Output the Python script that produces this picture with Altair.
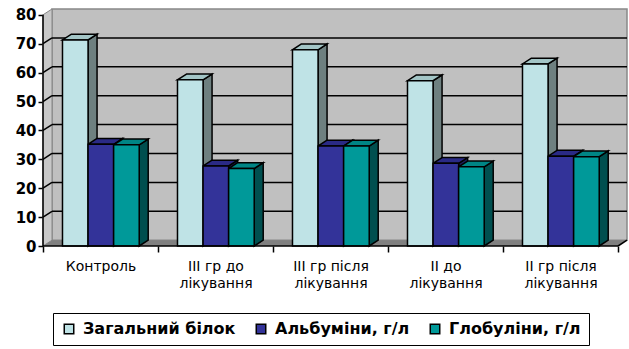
import json
import altair as alt
import pandas as pd

# ---------------- data ----------------
categories = [
    "Контроль",
    "III гр до\nлікування",
    "III гр після\nлікування",
    "II до\nлікування",
    "II гр після\nлікування",
]
series = ["Загальний білок", "Альбуміни, г/л", "Глобуліни, г/л"]
total_protein = [71.3, 57.5, 67.9, 57.2, 63.0]
albumin = [35.2, 27.7, 34.6, 28.6, 31.1]
globulin = [35.0, 26.8, 34.6, 27.4, 30.9]
y_ticks = [0, 10, 20, 30, 40, 50, 60, 70, 80]

# ---------------- style / geometry ----------------
front_colors = ["#BFE3E6", "#333399", "#009999"]
side_colors = ["#6E8080", "#1C1C5A", "#004F4F"]
top_colors = ["#A3C5C6", "#2A2A85", "#008585"]

CAT_PX = 115.1           # pixel width of one category
DX_PX = 9.0              # 3-D depth, horizontal
PX_PER_Y = 2.884         # pixels per value unit
DY_PX = 5.8              # 3-D depth, vertical
dxu = DX_PX / CAT_PX
dyu = DY_PX / PX_PER_Y
GROUP_OFF = 19.5 / CAT_PX
BAR_W = 25.6 / CAT_PX
YMAX = 80
NCAT = len(categories)

W = round(NCAT * CAT_PX + DX_PX)
H = round((YMAX + dyu) * PX_PER_Y)
PAD_L, PAD_T = 43, 9

values = [total_protein, albumin, globulin]

front, side, top = [], [], []
for i, cat in enumerate(categories):
    for j, s in enumerate(series):
        v = values[j][i]
        xl = i + GROUP_OFF + j * BAR_W
        xr = xl + BAR_W
        bid = f"{i}-{j}"
        front.append(dict(series=s, xl=xl, xr=xr, y0=0.0, v=v))
        side.append(dict(series=s, bar=bid, x=xr, lo=0.0, hi=v))
        side.append(dict(series=s, bar=bid, x=xr + dxu, lo=dyu, hi=v + dyu))
        top.append(dict(series=s, bar=bid, y=v, xa=xl, xb=xr))
        top.append(dict(series=s, bar=bid, y=v + dyu, xa=xl + dxu, xb=xr + dxu))

front_df = pd.DataFrame(front)
side_df = pd.DataFrame(side)
top_df = pd.DataFrame(top)

xs = alt.Scale(domain=[0, NCAT + dxu], nice=False, zero=False)
ys = alt.Scale(domain=[0, YMAX + dyu], nice=False, zero=False)

tick_vals = [k * 0.5 for k in range(2 * NCAT + 1)]
expr = "''"
for i in reversed(range(NCAT)):
    lines = json.dumps(categories[i].split("\n"), ensure_ascii=False)
    expr = f"datum.value == {i + 0.5} ? {lines} : ({expr})"

x_axis = alt.Axis(
    values=tick_vals, title=None, domain=False, grid=False, labelExpr=expr,
    tickSize=6, tickColor="black", tickWidth=1.5,
    tickOpacity={"condition": {"test": "datum.value % 1 != 0", "value": 0}, "value": 1},
    labelFont="DejaVu Sans", labelFontSize=14, labelColor="black", labelLineHeight=17,
    labelPadding=7, labelAngle=0, labelOverlap=False, labelFlush=False, labelBound=False,
    labelBaseline="top",
)
y_axis = alt.Axis(
    values=y_ticks, title=None, domain=False, grid=False,
    tickSize=5, tickColor="black", tickWidth=1.5,
    labelFont="DejaVu Sans", labelFontWeight="bold", labelFontSize=15, labelColor="black",
    labelPadding=2,
)


def X(field, **kw):
    return alt.X(field, type="quantitative", scale=xs, axis=x_axis, **kw)


def Y(field, **kw):
    return alt.Y(field, type="quantitative", scale=ys, axis=y_axis, **kw)


# walls
back_df = pd.DataFrame([dict(x=dxu, x2=NCAT + dxu, y=dyu, y2=YMAX + dyu)])
back = alt.Chart(back_df).mark_rect(fill="#C0C0C0", stroke="#888888", strokeWidth=1.5).encode(
    x=X("x"), x2="x2", y=Y("y"), y2="y2"
)
lw_df = pd.DataFrame([dict(x=0.0, lo=0.0, hi=YMAX), dict(x=dxu, lo=dyu, hi=YMAX + dyu)])
left_wall = alt.Chart(lw_df).mark_area(orient="vertical", fill="#C8C8C8", stroke="#888888", strokeWidth=1).encode(
    x=X("x"), y=Y("lo", stack=None), y2="hi"
)
fl_df = pd.DataFrame([dict(y=0.0, a=0.0, b=NCAT), dict(y=dyu, a=dxu, b=NCAT + dxu)])
floor = alt.Chart(fl_df).mark_area(orient="horizontal", fill="#808080").encode(
    y=Y("y"), x=X("a", stack=None), x2="b"
)

# gridlines
grid_rows = []
for v in y_ticks[1:-1]:
    grid_rows.append(dict(x=dxu, x2=NCAT + dxu, y=v + dyu, y2=v + dyu))
    grid_rows.append(dict(x=0.0, x2=dxu, y=v, y2=v + dyu))
grid = alt.Chart(pd.DataFrame(grid_rows)).mark_rule(color="black", strokeWidth=1.5).encode(
    x=X("x"), x2="x2", y=Y("y"), y2="y2"
)

# bars
sides = alt.Chart(side_df).mark_area(orient="vertical", stroke="black", strokeWidth=1.5).encode(
    x=X("x"),
    y=Y("lo", stack=None),
    y2="hi",
    detail="bar:N",
    color=alt.Color("series:N", scale=alt.Scale(domain=series, range=side_colors), legend=None),
)
tops = alt.Chart(top_df).mark_area(orient="horizontal", stroke="black", strokeWidth=1.5).encode(
    y=Y("y"),
    x=X("xa", stack=None),
    x2="xb",
    detail="bar:N",
    color=alt.Color("series:N", scale=alt.Scale(domain=series, range=top_colors), legend=None),
)

fronts = alt.Chart(front_df).mark_rect(stroke="black", strokeWidth=1.5).encode(
    x=X("xl"),
    x2="xr",
    y=Y("y0"),
    y2="v",
    color=alt.Color(
        "series:N",
        scale=alt.Scale(domain=series, range=front_colors),
        legend=alt.Legend(
            title=None, orient="none", legendX=10, legendY=304, direction="horizontal",
            symbolType="square", symbolSize=90, symbolStrokeColor="black", symbolStrokeWidth=1.5,
            labelFont="DejaVu Sans", labelFontWeight="bold", labelFontSize=16, labelColor="black",
            strokeColor="black", fillColor="white", padding=8, columnPadding=17, labelOffset=6,
            labelLimit=400,
        ),
    ),
)

# axis lines / edges
edge_rows = [
    dict(x=0.0, x2=0.0, y=0.0, y2=YMAX),
    dict(x=0.0, x2=NCAT, y=0.0, y2=0.0),
    dict(x=NCAT, x2=NCAT + dxu, y=0.0, y2=dyu),
]
edges = alt.Chart(pd.DataFrame(edge_rows)).mark_rule(color="black", strokeWidth=1.5).encode(
    x=X("x"), x2="x2", y=Y("y"), y2="y2"
)

chart = (
    alt.layer(back, left_wall, floor, grid, sides, tops, fronts, edges)
    .resolve_scale(color="independent")
    .properties(
        width=W, height=H,
        autosize=alt.AutoSizeParams(type="none"),
        padding={"left": PAD_L, "top": PAD_T, "right": 629 - PAD_L - W, "bottom": 349 - PAD_T - H},
        background="white",
    )
    .configure_view(stroke=None)
)

chart.save("out.html", embed_options={"renderer": "svg", "actions": False})
